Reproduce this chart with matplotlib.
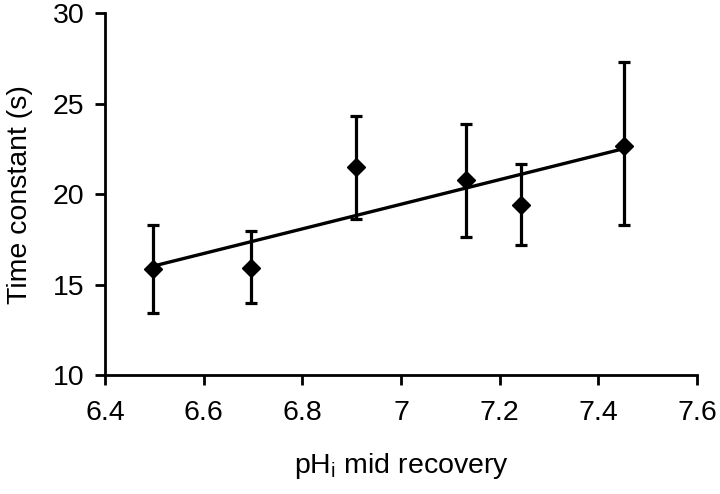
import numpy as np
import matplotlib
matplotlib.use("Agg")
from matplotlib import pyplot as plt

plt.rcParams['font.family'] = ['Liberation Sans', 'DejaVu Sans']
plt.rcParams['mathtext.fontset'] = 'custom'
plt.rcParams['mathtext.rm'] = 'Liberation Sans'

# values
ph_mid = [6.497, 6.695, 6.909, 7.131, 7.244, 7.452]
tau = [15.85, 15.94, 21.48, 20.79, 19.41, 22.69]
err_hi = [18.27, 17.97, 24.34, 23.89, 21.66, 27.29]
err_lo = [13.45, 14.0, 18.63, 17.64, 17.2, 18.27]

x_ticks = [6.4, 6.6, 6.8, 7.0, 7.2, 7.4, 7.6]
x_labels = ['6.4', '6.6', '6.8', '7', '7.2', '7.4', '7.6']
y_ticks = [10, 15, 20, 25, 30]

x = np.array(ph_mid)
y = np.array(tau)
yerr = [y - np.array(err_lo), np.array(err_hi) - y]

fig = plt.figure(figsize=(7.2, 4.94), dpi=100)
ax = fig.add_axes([0.1458, 0.2409, 0.968 - 0.1458, 0.973 - 0.2409])

# linear fit drawn between the extreme points
k, b = np.polyfit(x, y, 1)
xf = np.array([x.min(), x.max()])
ax.plot(xf, k * xf + b, color='black', lw=2.4, zorder=2)

ax.errorbar(x, y, yerr=yerr, fmt='D', color='black', ms=9.5,
            elinewidth=2.3, capsize=4.3, capthick=2.3, zorder=3)

ax.set_xlim(6.4, 7.6)
ax.set_ylim(10, 30)
ax.set_xticks(x_ticks)
ax.set_xticklabels(x_labels)
ax.set_yticks(y_ticks)

for s in ['top', 'right']:
    ax.spines[s].set_visible(False)
for s in ['left', 'bottom']:
    ax.spines[s].set_linewidth(2)

ax.tick_params(axis='both', direction='out', length=7, width=2, labelsize=20.5)
ax.tick_params(axis='x', pad=11)
ax.tick_params(axis='y', pad=8)

ax.set_xlabel(r'pH$_\mathregular{i}$ mid recovery', fontsize=20.5, labelpad=18)
ax.set_ylabel('Time constant (s)', fontsize=20.5, labelpad=14)

fig.savefig('out.png', dpi=100)
